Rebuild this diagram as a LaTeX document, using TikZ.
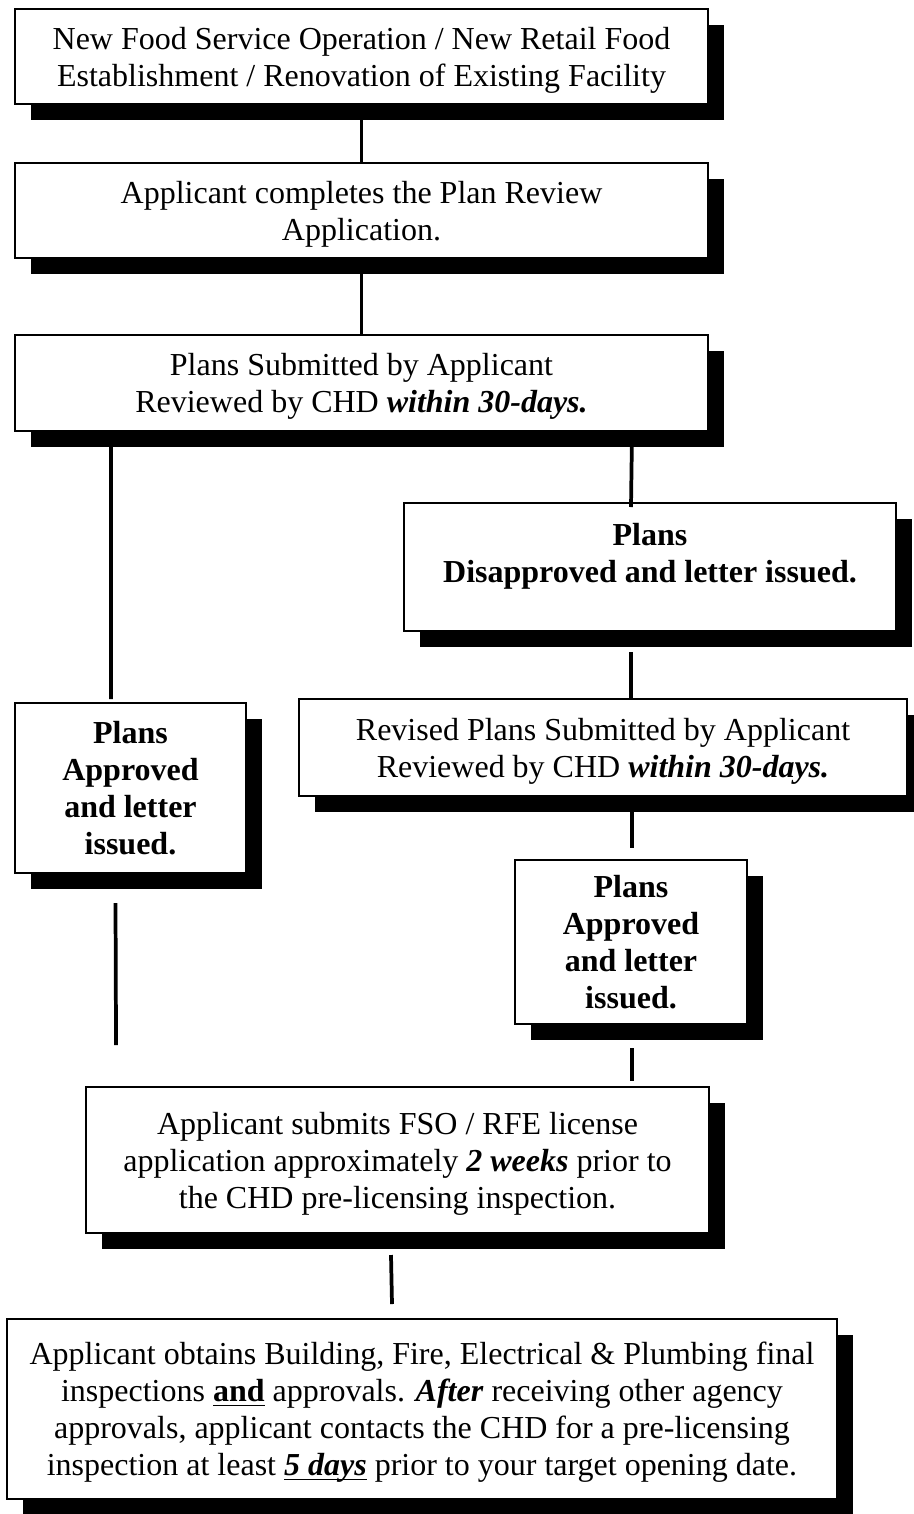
\documentclass[tikz,border=0pt]{standalone}
\usepackage{fontspec}
\setmainfont{Liberation Serif}
\usetikzlibrary{calc,shadows}

\begin{document}
\begin{tikzpicture}[x=0.375pt,y=-0.375pt,
    box/.style={draw,line width=0.75pt,fill=white,align=center,inner sep=0pt,
      text depth=0pt,font=\fontsize{12}{13.9}\selectfont,
      drop shadow={shadow xshift=6pt,shadow yshift=-6pt,fill=black,opacity=1}},
    boldbox/.style={box,font=\fontsize{12}{13.9}\selectfont\bfseries},
    link/.style={line width=1.4pt}]
  \useasboundingbox (0,0) rectangle (913,1514);

  \node(start) at (361.5,56.5)[box,minimum width=259.9pt,minimum height=35.6pt]{New Food Service Operation / New Retail Food\\Establishment / Renovation of Existing Facility};
  \node(appl) at (361.5,210.5)[box,minimum width=259.9pt,minimum height=35.6pt]{Applicant completes the Plan Review\\Application.};
  \node(submit) at (361.5,383)[box,minimum width=259.9pt,minimum height=36pt]{Plans Submitted by Applicant\\Reviewed by CHD \textbf{\textit{within 30-days.}}};
  \node(disappr) at (650,567)[boldbox,minimum width=184.5pt,minimum height=48pt]{Plans\\Disapproved and letter issued.\\[-3pt]\mbox{}};
  \node(revised) at (603,747.5)[box,minimum width=228pt,minimum height=36.4pt]{Revised Plans Submitted by Applicant\\Reviewed by CHD \textbf{\textit{within 30-days.}}};
  \node(apprL) at (130.5,788)[boldbox,minimum width=86.6pt,minimum height=63.75pt]{Plans\\Approved\\and letter\\issued.};
  \node(apprR) at (631,942)[boldbox,minimum width=87pt,minimum height=61.5pt]{Plans\\Approved\\and letter\\issued.};
  \node(license) at (397.5,1160)[box,minimum width=233.6pt,minimum height=54.75pt]{Applicant submits FSO / RFE license\\application approximately \textbf{\textit{2 weeks}} prior to\\the CHD pre-licensing inspection.};
  \node(final) at (422,1409)[box,minimum width=311.25pt,minimum height=67.5pt]{Applicant obtains Building, Fire, Electrical \& Plumbing final\\inspections \textbf{\underline{\smash{and}}} approvals. \textbf{\textit{After}} receiving other agency\\approvals, applicant contacts the CHD for a pre-licensing\\inspection at least \textbf{\textit{\underline{\smash{5 days}}}} prior to your target opening date.};

  \draw[link] (start.south) -- (appl.north);
  \draw[link] (appl.south) -- (submit.north);
  \draw[link] ($(submit.south west)+(97,0)$) -- ($(apprL.north west)+(97,-3)$);
  \draw[link] ($(submit.south east)+(-77,0)$) -- ($(disappr.north)+(-19,5)$);
  \draw[link] ($(disappr.south)+(-19,20)$) -- ($(revised.north)+(28,0)$);
  \draw[link] ($(revised.south)+(29,15)$) -- ($(apprR.north)+(1,-11)$);
  \draw[link] ($(apprL.south)+(-15,29)$) -- ($(license.north west)+(31,-41)$);
  \draw[link] ($(apprR.south)+(1,23)$) -- ($(license.north -| apprR.south)+(1,-5)$);
  \draw[link] ($(license.south)+(-6.5,21)$) -- ($(final.north)+(-30,-14)$);
\end{tikzpicture}
\end{document}
